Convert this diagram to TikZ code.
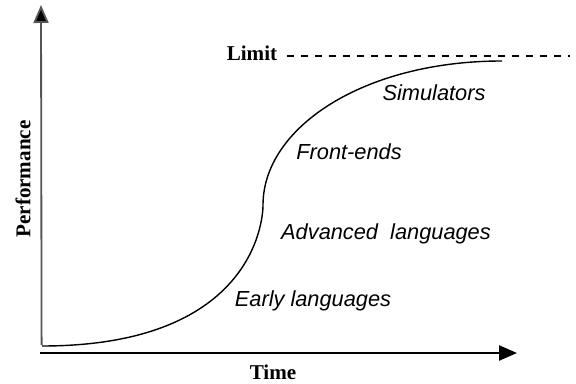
\documentclass[tikz,border=0pt]{standalone}
\usepackage{fontspec}
\setmainfont{Liberation Serif}
\newfontfamily\labelfont{Liberation Sans}
\usetikzlibrary{arrows.meta}
\definecolor{axisGray}{HTML}{555555}
\tikzset{
  axis/.style={line width=1.6pt, -{Triangle[length=12.8pt,width=10.7pt]}},
  stage/.style={inner sep=0pt, font=\labelfont\itshape\fontsize{15.5}{18}\selectfont},
  title/.style={inner sep=0pt, font=\bfseries\fontsize{15}{18}\selectfont}
}

\begin{document}
\begin{tikzpicture}
\useasboundingbox (0,0) rectangle (14.4,9.575);
% axes
\coordinate (ybot) at (1.04,0.95);
\coordinate (ytop) at (1.025,9.45);
\coordinate (xleft) at (1.0,0.75);
\coordinate (xright) at (12.925,0.75);
\draw[axis, axisGray, line width=1.3pt, -{Triangle[length=12.8pt,width=10.7pt,fill=black]}] (ybot) -- (ytop);
\draw[axis] (xleft) -- (xright);
\node[title] (time) at (6.825,0.275) {Time};
\node[title, rotate=90] (perf) at (0.575,5.1) {Performance};

% s-curve
\coordinate (start) at (1.05,0.925);
\coordinate (bend) at (6.575,4.45);
\coordinate (top) at (12.55,8.05);
\draw[line width=1pt] (start) .. controls (6.225,0.925) and (6.575,3.95) .. (bend)
  .. controls (6.575,6.375) and (9.075,8.05) .. (top);

% limit line
\node[title] (limit) at (6.3,8.25) {Limit};
\coordinate (limitstart) at (7.175,8.175);
\coordinate (limitend) at (14.25,8.175);
\draw[line width=1.4pt, dash pattern=on 5pt off 5pt] (limitstart) -- (limitend);

% stages
\node[stage] (early) at (7.825,2.05) {Early languages};
\node[stage] (adv) at (9.65,3.725) {Advanced\ \ languages};
\node[stage] (front) at (8.725,5.775) {Front-ends};
\node[stage] (sim) at (10.85,7.25) {Simulators};
\end{tikzpicture}
\end{document}
